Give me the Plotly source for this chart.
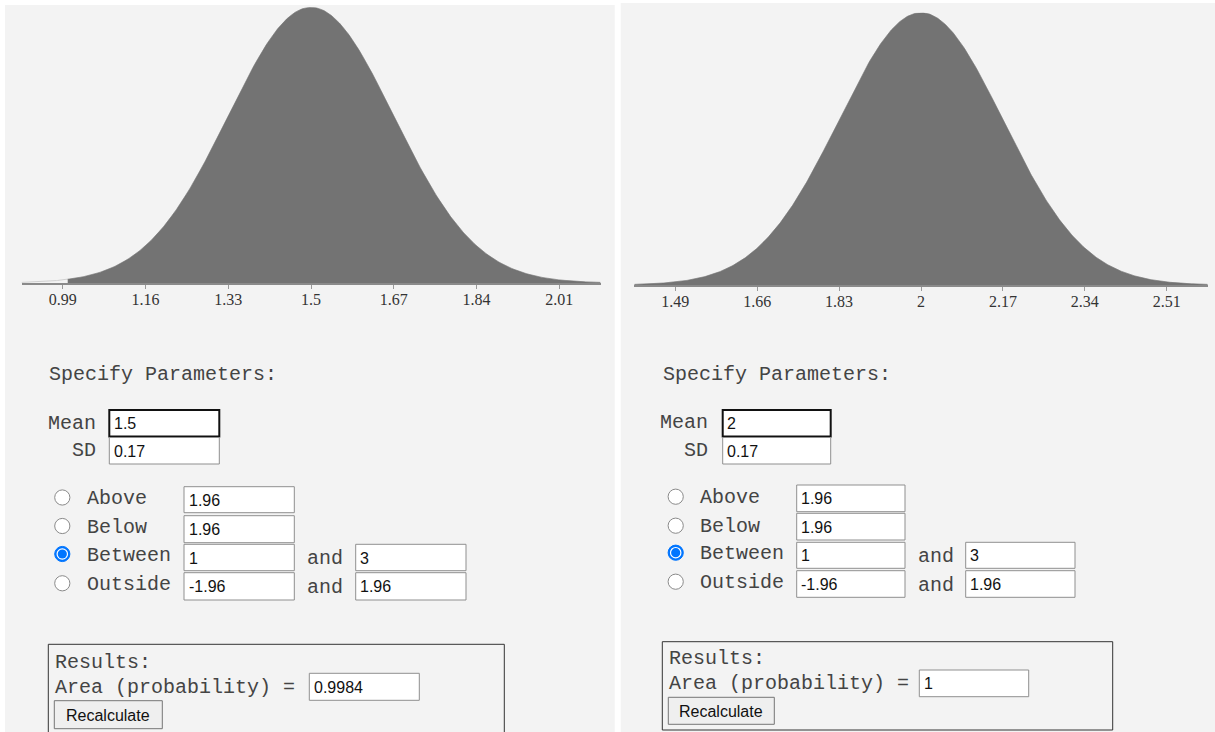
import numpy as np
import plotly.graph_objects as go

# ---------------- data ----------------
means = [1.5, 2.0]
sds = [0.17, 0.17]
tick_labels = [
    ["0.99", "1.16", "1.33", "1.5", "1.67", "1.84", "2.01"],
    ["1.49", "1.66", "1.83", "2", "2.17", "2.34", "2.51"],
]
mean_text = ["1.5", "2"]
sd_text = ["0.17", "0.17"]
above_text = ["1.96", "1.96"]
below_text = ["1.96", "1.96"]
between_lo = [1, 1]
between_hi = [3, 3]
outside_lo = ["-1.96", "-1.96"]
outside_hi = ["1.96", "1.96"]
area_text = ["0.9984", "1"]
radio_labels = ["Above", "Below", "Between", "Outside"]
selected_radio = 2

# ---------------- layout helpers ----------------
W, H = 1215, 732
def px(x):
    return x / W
def py(y):
    return 1 - y / H

MONO = "Liberation Mono"
SANS = "Liberation Sans"
SERIF = "Liberation Serif"
PANEL_BG = "#f3f3f3"
FILL = "#737373"
TXT = "#444444"

# per panel geometry (pixels)
geo = [
    dict(bg=(5, 5, 614.7, 740), plot_x=(21.5, 600.5), plot_y=(283, 7.3),
         spec=(48, 375), lab_r=97, mean_y=423, sd_y=450,
         mean_box=(109.3, 410, 219.3, 436.5), sd_box=(109.3, 437.5, 219.3, 464),
         rcx=62.3, rcy=[497.5, 526, 554, 583.3], lab_x=86,
         c1=(184, 294.3), rows=[(486.7, 512.7), (515.7, 542.7), (544.3, 570.7), (572.7, 600)],
         and_x=306, c2=(355.7, 466),
         res_box=(48.3, 644.3, 504.3, 745), res_y=662, area_y=687,
         area_box=(309.3, 673.3, 419.3, 700.3), btn=(54.3, 700.7, 162.3, 728.7)),
    dict(bg=(620.7, 3, 1216, 740), plot_x=(634.3, 1207.7), plot_y=(285, 12.7),
         spec=(662, 375), lab_r=708.5, mean_y=422.5, sd_y=450,
         mean_box=(722.7, 410, 830.7, 436.5), sd_box=(722.7, 437.5, 830.7, 464),
         rcx=675.7, rcy=[496.7, 525.7, 552.7, 581.7], lab_x=699,
         c1=(796.7, 905), rows=[(485, 511.7), (513.3, 540), (542.3, 568.3), (570.7, 597.3)],
         and_x=917, c2=(965.7, 1075),
         res_box=(662.3, 641.7, 1112.7, 730), res_y=658.3, area_y=683.3,
         area_box=(919.3, 670, 1028.7, 696.7), btn=(668.3, 697.3, 774.3, 724.3)),
]

fig = go.Figure()
shapes = []
annos = []

def rect(x0, y0, x1, y1, fill, line="#767676", lw=1, layer="below"):
    shapes.append(dict(type="rect", xref="paper", yref="paper",
                       x0=px(x0), x1=px(x1), y0=py(y1), y1=py(y0),
                       fillcolor=fill, line=dict(color=line, width=lw), layer=layer))

def circle(cx, cy, r, fill, line="#767676", lw=1):
    shapes.append(dict(type="circle", xref="paper", yref="paper",
                       x0=px(cx - r), x1=px(cx + r), y0=py(cy + r), y1=py(cy - r),
                       fillcolor=fill, line=dict(color=line, width=lw), layer="above"))

def text(x, y, s, font=MONO, size=20, color=TXT, anchor="left"):
    annos.append(dict(xref="paper", yref="paper", x=px(x), y=py(y), text=s,
                      showarrow=False, xanchor=anchor, yanchor="middle",
                      font=dict(family=font, size=size, color=color), borderpad=0))

def input_box(x0, y0, x1, y1, s, focused=False):
    if focused:
        rect(x0, y0, x1, y1, "white", line="#111111", lw=2, layer="above")
    else:
        rect(x0, y0, x1, y1, "white", line="#8f8f8f", lw=1, layer="above")
    text(x0 + 3.5, (y0 + y1) / 2 + 0.5, s, font=SANS, size=16, color="#111111")

for i in range(2):
    g = geo[i]
    m, s = means[i], sds[i]
    # panel background
    rect(*g["bg"], PANEL_BG, line=PANEL_BG, lw=0)

    lo, hi = m - 3.5 * s, m + 3.5 * s
    x = np.linspace(lo, hi, 600)
    y = np.exp(-0.5 * ((x - m) / s) ** 2) / (s * np.sqrt(2 * np.pi))
    peak = 1 / (s * np.sqrt(2 * np.pi))
    xa = "x" if i == 0 else "x2"
    ya = "y" if i == 0 else "y2"

    # unshaded outline
    fig.add_trace(go.Scatter(x=x, y=y, mode="lines", line=dict(color="#d0d0d0", width=1),
                             xaxis=xa, yaxis=ya, hoverinfo="skip", showlegend=False))
    a, b = max(between_lo[i], lo), min(between_hi[i], hi)
    xs = np.linspace(a, b, 600)
    ys = np.exp(-0.5 * ((xs - m) / s) ** 2) / (s * np.sqrt(2 * np.pi))
    fig.add_trace(go.Scatter(x=xs, y=ys, mode="lines", fill="tozeroy", fillcolor=FILL,
                             line=dict(color=FILL, width=0.5),
                             xaxis=xa, yaxis=ya, hoverinfo="skip", showlegend=False))

    tickvals = [m + k * s for k in range(-3, 4)]
    xd = [px(g["plot_x"][0]), px(g["plot_x"][1])]
    yd = [py(g["plot_y"][0]), py(g["plot_y"][1])]
    xkey = "xaxis" if i == 0 else "xaxis2"
    ykey = "yaxis" if i == 0 else "yaxis2"
    fig.update_layout(**{
        xkey: dict(domain=xd, range=[lo, hi], anchor=ya, showgrid=False, zeroline=False,
                   showline=True, linecolor="#8a8a8a", linewidth=2,
                   ticks="outside", ticklen=4, tickcolor="#9a9a9a", tickwidth=1,
                   ticklabelstandoff=-3,
                   tickvals=tickvals, ticktext=tick_labels[i],
                   tickfont=dict(family=SERIF, size=16, color="#333333"), fixedrange=True),
        ykey: dict(domain=yd, range=[0, peak], anchor=xa, visible=False, fixedrange=True),
    })

    # form
    text(g["spec"][0], g["spec"][1], "Specify Parameters:")
    text(g["lab_r"], g["mean_y"], "Mean", anchor="right")
    text(g["lab_r"], g["sd_y"], "SD", anchor="right")
    input_box(*g["mean_box"], mean_text[i], focused=True)
    input_box(*g["sd_box"], sd_text[i])

    col1_vals = [above_text[i], below_text[i], str(between_lo[i]), outside_lo[i]]
    for r in range(4):
        cy = g["rcy"][r]
        if r == selected_radio:
            circle(g["rcx"], cy, 7.6, "#0075ff", line="#0075ff", lw=1)
            circle(g["rcx"], cy, 5.8, "white", line="white", lw=0)
            circle(g["rcx"], cy, 4.6, "#0075ff", line="#0075ff", lw=0)
        else:
            circle(g["rcx"], cy, 7.6, "white", line="#8a8a8a", lw=1)
        text(g["lab_x"], cy + 1, radio_labels[r])
        y0, y1 = g["rows"][r]
        input_box(g["c1"][0], y0, g["c1"][1], y1, col1_vals[r])
    for r, v in [(2, str(between_hi[i])), (3, outside_hi[i])]:
        y0, y1 = g["rows"][r]
        text(g["and_x"], (y0 + y1) / 2 + 1, "and")
        input_box(g["c2"][0], y0, g["c2"][1], y1, v)

    # results box
    rect(*g["res_box"], PANEL_BG, line="#333333", lw=1, layer="above")
    text(g["res_box"][0] + 5.5, g["res_y"], "Results:")
    text(g["res_box"][0] + 5.5, g["area_y"], "Area (probability) =")
    input_box(*g["area_box"], area_text[i])
    bx0, by0, bx1, by1 = g["btn"]
    rect(bx0, by0, bx1, by1, "#efefef", line="#767676", lw=1, layer="above")
    text((bx0 + bx1) / 2, (by0 + by1) / 2 + 0.5, "Recalculate", font=SANS, size=16,
         color="#111111", anchor="center")

fig.update_layout(
    width=W, height=H, autosize=False,
    margin=dict(l=0, r=0, t=0, b=0, pad=0),
    paper_bgcolor="white", plot_bgcolor="rgba(0,0,0,0)",
    shapes=shapes, annotations=annos, showlegend=False,
)

fig.write_html("out.html", config={"displayModeBar": False},
               post_script="document.body.style.margin='0';document.body.style.overflow='hidden';")
